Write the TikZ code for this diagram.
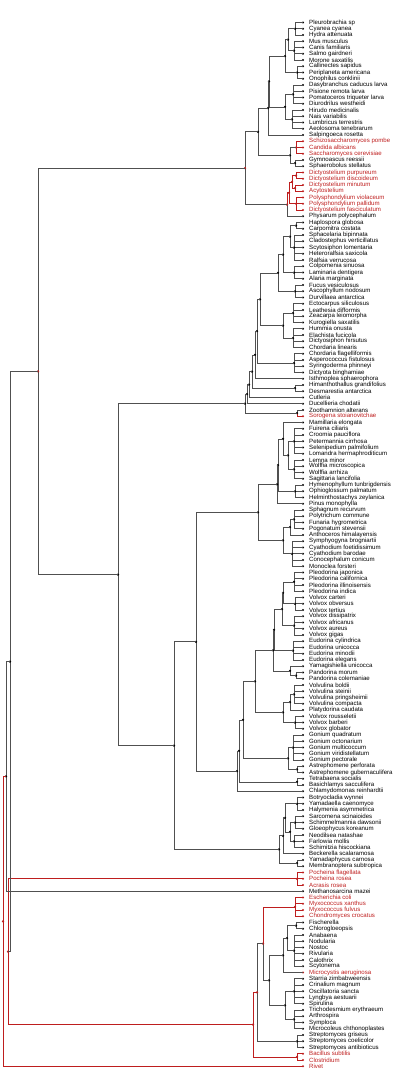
\documentclass[tikz,border=0pt]{standalone}
\usepackage{fontspec}
\setmainfont{Liberation Sans}
\usetikzlibrary{calc}
\definecolor{treered}{RGB}{190,30,30}
\definecolor{treegray}{RGB}{80,80,80}
\definecolor{k}{RGB}{0,0,0}
\definecolor{r}{RGB}{190,30,30}
\tikzset{
  br/.style={draw=treegray, line width=0.7pt},
  rbr/.style={draw=treered, line width=0.7pt},
  nd/.style={circle, fill=black, inner sep=0pt, minimum size=2.5pt},
  rnd/.style={nd, fill=treered},
  tip/.style={circle, inner sep=0pt, minimum size=2.4pt},
  lab/.style={anchor=west, inner sep=0pt, font=\fontsize{6.1}{6.2}\selectfont},
}
% node half way between two children, at a given x
\newcommand\placenode[4]{%
  \path ($(#3.center)!0.5!(#4.center)$) coordinate (tm) (#2,0) coordinate (tx);
  \coordinate (#1) at (tx |- tm);}
\newcommand\link[3][br]{\draw[#1] (#2) |- (#3.center);}
\newcommand\nodedot[2][nd]{\node[#1] (#2-d) at (#2) {};}
% join two children (optional r = red)
\newcommand\join[5][]{\placenode{#2}{#3}{#4}{#5}%
  \link[#1br]{#2}{#4}\link[#1br]{#2}{#5}\nodedot[#1nd]{#2}}
% a small comb of neighbouring tips
\newcommand\tuft[5][]{%
  \path ($(l#4.center)!0.5!(l#5.center)$) coordinate (tm) (#3,0) coordinate (tx);
  \coordinate (#2) at (tx |- tm);
  \foreach \k in {#4,...,#5} {\link[#1br]{#2}{l\k}}
  \nodedot[#1nd]{#2}}
\begin{document}
\begin{tikzpicture}[x=1pt,y=-1pt]
\useasboundingbox (0,0) rectangle (414,1071);

% tips and labels
\foreach \c/\t [count=\i] in {k/Pleurobrachia sp, k/Cyanea cyanea, k/Hydra attenuata, k/Mus musculus, k/Canis familiaris, k/Salmo gairdneri, k/Morone saxatilis, k/Callinectes sapidus, k/Periplaneta americana, k/Onophilus conklinii, k/Dasybranchus caducus larva, k/Pisione remota larva, k/Pomatoceros triqueter larva, k/Diurodrilus westheidi, k/Hirudo medicinalis, k/Nais variabilis, k/Lumbricus terrestris, k/Aeolosoma tenebrarum, k/Salpingoeca rosetta, r/Schizosaccharomyces pombe, r/Candida albicans, r/Saccharomyces cerevisiae, k/Gymnoascus reessii, k/Sphaerobolus stellatus, r/Dictyostelium purpureum, r/Dictyostelium discoideum, r/Dictyostelium minutum, r/Acytostelium, r/Polysphondylium violaceum, r/Polysphondylium pallidum, r/Dictyostelium fasciculatum, k/Physarum polycephalum, k/Haplospora globosa, k/Carpomitra costata, k/Sphacelaria bipinnata, k/Cladostephus verticillatus, k/Scytosiphon lomentaria, k/Heteroralfsia saxicola, k/Ralfsia verrucosa, k/Colpomenia sinuosa, k/Laminaria dentigera, k/Alaria marginata, k/Fucus vesiculosus, k/Ascophyllum nodosum, k/Durvillaea antarctica, k/Ectocarpus siliculosus, k/Leathesia difformis, k/Zeacarpa leiomorpha, k/Kurogiella saxatilis, k/Hummia onusta, k/Elachista fucicola, k/Dictyosiphon hirsutus, k/Chordaria linearis, k/Chordaria flagelliformis, k/Asperococcus fistulosus, k/Syringoderma phinneyi, k/Dictyota binghamiae, k/Isthmoplea sphaerophora, k/Himanthothallus grandifolius, k/Desmarestia antarctica, k/Cutleria, k/Ducellieria chodatii, k/Zoothamnion alterans, r/Sorogena stoianovitchae, k/Mamillaria elongata, k/Fuirena ciliaris, k/Croomia pauciflora, k/Petermannia cirrhosa, k/Selenipedium palmifolium, k/Lomandra hermaphroditicum, k/Lemna minor, k/Wolffia microscopica, k/Wolffia arrhiza, k/Sagittaria lancifolia, k/Hymenophyllum tunbrigdensis, k/Ophioglossum palmatum, k/Helminthostachys zeylanica, k/Pinus monophylla, k/Sphagnum recurvum, k/Polytrichum commune, k/Funaria hygrometrica, k/Pogonatum stevensii, k/Anthoceros himalayensis, k/Symphyogyna brogniartii, k/Cyathodium foetidissimum, k/Cyathodium barodae, k/Conocephalum conicum, k/Monoclea forsteri, k/Pleodorina japonica, k/Pleodorina californica, k/Pleodorina illinoisensis, k/Pleodorina indica, k/Volvox carteri, k/Volvox obversus, k/Volvox tertius, k/Volvox dissipatrix, k/Volvox africanus, k/Volvox aureus, k/Volvox gigas, k/Eudorina cylindrica, k/Eudorina unicocca, k/Eudorina minodii, k/Eudorina elegans, k/Yamagishiella unicocca, k/Pandorina morum, k/Pandorina colemaniae, k/Volvulina boldii, k/Volvulina steinii, k/Volvulina pringsheimii, k/Volvulina compacta, k/Platydorina caudata, k/Volvox rousseletii, k/Volvox barberi, k/Volvox globator, k/Gonium quadratum, k/Gonium octonarium, k/Gonium multicoccum, k/Gonium viridistellatum, k/Gonium pectorale, k/Astrephomene perforata, k/Astrephomene gubernaculifera, k/Tetrabaena socialis, k/Basichlamys sacculifera, k/Chlamydomonas reinhardtii, k/Botryocladia wynnei, k/Yamadaella caenomyce, k/Halymenia asymmetrica, k/Sarcomena scinaioides, k/Schimmelmannia dawsonii, k/Gloeophycus koreanum, k/Neodilsea natashae, k/Farlowia mollis, k/Schimitzia hiscockiana, k/Beckerella scalaramosa, k/Yamadaphycus carnosa, k/Membranoptera subtropica, r/Pocheina flagellata, r/Pocheina rosea, r/Acrasis rosea, k/Methanosarcina mazei, r/Escherichia coli, r/Myxococcus xanthus, r/Myxococcus fulvus, r/Chondromyces crocatus, k/Fischerella, k/Chlorogloeopsis, k/Anabaena, k/Nodularia, k/Nostoc, k/Rivularia, k/Calothrix, k/Scytonema, r/Microcystis aeruginosa, k/Starria zimbabweensis, k/Crinalium magnum, k/Oscillatoria sancta, k/Lyngbya aestuarii, k/Spirulina, k/Trichodesmium erythraeum, k/Arthrospira, k/Symploca, k/Microcoleus chthonoplastes, k/Streptomyces griseus, k/Streptomyces coelicolor, k/Streptomyces antibioticus, r/Bacillus subtilis, r/Clostridium, r/Rivet}
{
  \node[tip, fill=\c] (l\i) at (303, {22.5+(\i-1)*6.25}) {};
  \node[lab, text=\c] (t\i) at (309, {22.5+(\i-1)*6.25}) {\t};
}

% animals and fungi
\tuft{cten}{295}{1}{3}
\tuft{vert}{294}{4}{7}
\join{diplo}{288}{cten}{vert}
\tuft{arth}{297}{8}{10}
\join{metz}{285}{diplo}{arth}
\tuft{ann1}{293}{11}{14}
\tuft{ann2}{292}{15}{18}
\join{anne}{285}{ann1}{ann2}
\join{bila}{269}{metz}{anne}
\join{holo}{268}{bila}{l19}
\tuft[r]{yeast}{296}{20}{22}
\tuft{asco}{295}{23}{24}
\join{fung}{290}{yeast}{asco}
\join{opis}{258}{holo}{fung}
% dictyostelids
\tuft[r]{dic1}{296}{25}{26}
\tuft[r]{dic2}{295}{27}{28}
\tuft[r]{dic3}{296}{29}{31}
\join[r]{dic12}{292}{dic1}{dic2}
\join[r]{dict}{289}{dic12}{dic3}
\placenode{myce}{287}{dict}{l32}
\link[rbr]{myce}{dict}\link{myce}{l32}\nodedot[rnd]{myce}
\placenode{amor}{245}{opis}{myce}
\link{amor}{opis}\link{amor}{myce}\nodedot[rnd]{amor}

% brown algae and ciliates
\tuft{b1}{296}{33}{34}
\tuft{b2}{294}{35}{39}
\join{b3}{290}{b1}{b2}
\tuft{b4}{294}{40}{42}
\join{b5}{283}{b3}{b4}
\tuft{b6}{295}{43}{45}
\join{b7}{278}{b5}{b6}
\tuft{b8a}{293}{46}{49}
\tuft{b8b}{293}{50}{53}
\join{b8}{283}{b8a}{b8b}
\join{b9}{260}{b7}{b8}
\tuft{b10}{294}{54}{57}
\join{b11}{257}{b9}{b10}
\join{b12}{255}{b11}{l58}
\tuft{b13}{295}{59}{60}
\join{b14}{252}{b12}{b13}
\join{b15}{249}{b14}{l61}
\join{b16}{247}{b15}{l62}
\placenode{cili}{297}{l63}{l64}
\link{cili}{l63}\link[rbr]{cili}{l64}\nodedot{cili}
\join{sar}{245}{b16}{cili}

% land plants
\tuft{mono1}{294}{66}{70}
\tuft{mono2}{294}{71}{74}
\join{mono}{288}{mono1}{mono2}
\join{angi}{283}{l65}{mono}
\tuft{fern}{295}{75}{77}
\join{vasc}{278}{angi}{fern}
\join{trach}{277}{vasc}{l78}
\tuft{moss}{294}{79}{82}
\join{mh}{290}{moss}{l83}
\tuft{liver}{292}{84}{88}
\join{bryo}{283}{mh}{liver}
\join{embr}{258}{trach}{bryo}

% volvocine algae
\tuft{pleo}{294}{89}{92}
\tuft{vox1}{295}{93}{95}
\join{pv1}{283}{pleo}{vox1}
\tuft{vox2}{294}{96}{99}
\join{pv2}{282}{pv1}{vox2}
\tuft{eudo}{293}{100}{103}
\join{pv3}{274}{pv2}{eudo}
\tuft{pand}{296}{105}{106}
\join{yp}{290}{l104}{pand}
\join{vol1}{273}{pv3}{yp}
\tuft{vlv}{294}{107}{110}
\join{vlp}{290}{vlv}{l111}
\tuft{voxv}{295}{112}{114}
\join{vol2}{283}{vlp}{voxv}
\join{volv}{255}{vol1}{vol2}
\tuft{goni}{293}{115}{119}
\tuft{astr}{297}{120}{121}
\join{gona}{288}{goni}{astr}
\join{vg}{243}{volv}{gona}
\tuft{tetr}{297}{122}{123}
\join{vgt}{239}{vg}{tetr}
\join{chla}{237}{vgt}{l124}
\join{viri}{196}{embr}{chla}

% red algae
\tuft{rh1}{297}{125}{127}
\tuft{rh2}{295}{128}{130}
\tuft{rh3}{294}{131}{133}
\join{rh23}{290}{rh2}{rh3}
\join{rh4}{285}{rh1}{rh23}
\join{rh5}{283}{rh4}{l134}
\tuft{rh6}{297}{135}{136}
\join{rhod}{279}{rh5}{rh6}
\join{arch}{174}{viri}{rhod}

% acrasids and bacteria
\tuft[r]{acra}{297}{137}{139}
\tuft[r]{prot}{295}{141}{144}
\tuft{nos1}{296}{145}{146}
\tuft{nos2}{294}{147}{152}
\join{nost}{287}{nos1}{nos2}
\join{cy1}{283}{nost}{l153}
\tuft{osc1}{294}{154}{158}
\tuft{osc2}{294}{159}{162}
\join{cy2}{285}{osc1}{osc2}
\join{cyan}{269}{cy1}{cy2}
\placenode{pc}{263}{prot}{cyan}
\link[rbr]{pc}{prot}\link{pc}{cyan}\nodedot[rnd]{pc}
\tuft{strep}{297}{163}{165}
\placenode{pcs}{257}{pc}{strep}
\link{pcs}{pc}\link{pcs}{strep}\nodedot[rnd]{pcs}
\tuft[r]{firm}{297}{166}{167}
\join[r]{bact}{253}{pcs}{firm}

% backbone
\join{kk}{118}{sar}{arch}
\placenode{gg}{38}{amor}{kk}
\link{gg}{amor}\link{gg}{kk}\nodedot[rnd]{gg}
\join[r]{nn}{8}{acra}{bact}
\join{mm}{10}{gg}{nn}
\join{xx}{6}{mm}{l140}
\join[r]{root}{3}{xx}{l168}
\end{tikzpicture}
\end{document}
